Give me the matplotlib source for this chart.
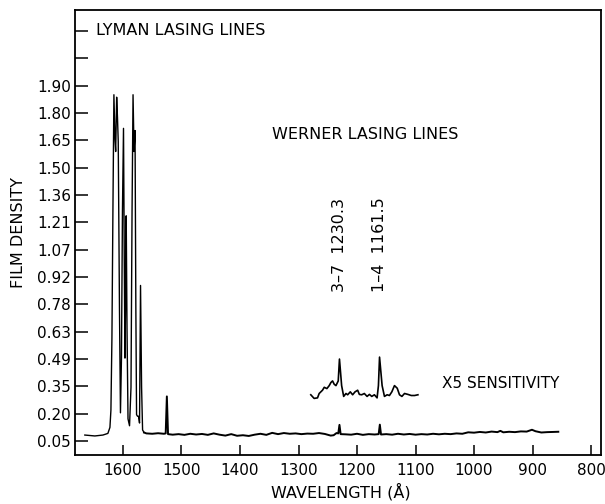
import numpy as np
import matplotlib
matplotlib.use("Agg")
import matplotlib.pyplot as plt
from matplotlib.transforms import blended_transform_factory

plt.rcParams.update({'font.family': 'DejaVu Sans', 'font.size': 10.5})

# ---- Film density tick labels (evenly spaced on the plate) ----
density_ticks = [0.05, 0.20, 0.35, 0.49, 0.63, 0.78, 0.92, 1.07, 1.21,
                 1.36, 1.50, 1.65, 1.80, 1.90]
wavelength_ticks = [1600, 1500, 1400, 1300, 1200, 1100, 1000, 900, 800]

# ---- Main scan: Lyman band region ----
lyman_wl = [1665.2, 1648.1, 1634.3, 1625.8, 1622.3, 1620.6, 1618.9, 1617.2,
            1615.5, 1613.7, 1612.5, 1610.8, 1609.4, 1608.1, 1606.0, 1604.3,
            1602.6, 1600.9, 1599.1, 1597.8, 1596.6, 1595.7, 1594.5, 1593.1,
            1591.4, 1588.8, 1586.3, 1584.5, 1582.8, 1581.1, 1579.4, 1578.0,
            1576.8, 1575.1, 1573.4, 1571.7, 1570.0, 1568.2, 1566.5, 1564.0]
lyman_d = [0.083, 0.078, 0.083, 0.092, 0.125, 0.220, 0.595, 1.270,
           1.867, 1.656, 1.589, 1.858, 1.776, 1.644, 0.758, 0.205,
           0.495, 1.270, 1.716, 1.020, 0.495, 0.758, 1.246, 0.647,
           0.172, 0.134, 0.345, 1.270, 1.867, 1.589, 1.704, 0.758,
           0.195, 0.186, 0.186, 0.149, 0.877, 0.345, 0.111, 0.097]

# ---- Main scan: continuum down to 856 A ----
cont_wl = [1560, 1550, 1540, 1530, 1527, 1525, 1523, 1515, 1505, 1495, 1485,
           1475, 1465, 1455, 1445, 1435, 1425, 1415, 1405, 1395, 1385, 1375,
           1365, 1355, 1345, 1335, 1325, 1315, 1305, 1295, 1285, 1275, 1265,
           1255, 1245, 1240, 1235, 1232, 1230, 1228, 1220, 1210, 1200, 1190,
           1180, 1170, 1163, 1161, 1159, 1150, 1140, 1130, 1120, 1110, 1100,
           1090, 1080, 1070, 1060, 1050, 1040, 1030, 1020, 1010, 1000, 990,
           980, 970, 960, 955, 950, 940, 930, 920, 910, 901, 895, 885, 875,
           865, 856]
cont_d = [0.092, 0.090, 0.093, 0.090, 0.092, 0.295, 0.088, 0.085, 0.088, 0.084,
          0.090, 0.086, 0.089, 0.084, 0.092, 0.085, 0.080, 0.088, 0.079, 0.082,
          0.078, 0.085, 0.090, 0.084, 0.095, 0.088, 0.094, 0.090, 0.092, 0.088,
          0.091, 0.090, 0.094, 0.089, 0.080, 0.082, 0.094, 0.092, 0.139, 0.088,
          0.087, 0.085, 0.090, 0.084, 0.088, 0.086, 0.088, 0.140, 0.086, 0.088,
          0.085, 0.090, 0.086, 0.089, 0.085, 0.088, 0.086, 0.090, 0.087, 0.090,
          0.088, 0.092, 0.090, 0.098, 0.096, 0.100, 0.097, 0.102, 0.099, 0.106,
          0.098, 0.101, 0.099, 0.103, 0.102, 0.112, 0.104, 0.097, 0.099, 0.100,
          0.101]

# ---- X5 sensitivity scan of the Werner region ----
x5_wl = [1279.0, 1273.3, 1267.5, 1264.7, 1259.0, 1256.0, 1251.5, 1247.5,
         1244.6, 1241.8, 1239.0, 1236.0, 1232.1, 1230.0, 1226.3, 1222.8,
         1218.9, 1216.0, 1211.5, 1207.5, 1203.4, 1198.9, 1196.0, 1192.0,
         1187.5, 1182.8, 1178.8, 1174.8, 1170.3, 1165.7, 1163.4, 1161.5,
         1157.1, 1153.1, 1148.5, 1144.6, 1140.5, 1136.0, 1131.3, 1127.4,
         1123.3, 1118.8, 1113.0, 1107.3, 1101.6, 1095.9]
x5_d = [0.304, 0.284, 0.287, 0.311, 0.329, 0.345, 0.338, 0.354,
        0.370, 0.378, 0.361, 0.354, 0.378, 0.490, 0.354, 0.295,
        0.311, 0.304, 0.320, 0.304, 0.320, 0.329, 0.306, 0.304,
        0.311, 0.295, 0.306, 0.295, 0.304, 0.287, 0.354, 0.500,
        0.354, 0.295, 0.304, 0.300, 0.320, 0.354, 0.340, 0.304,
        0.295, 0.311, 0.306, 0.300, 0.300, 0.304]

werner_lines = [1230.3, 1161.5]
werner_labels = ['3\u20137  1230.3', '1\u20134  1161.5']

tick_index = np.arange(len(density_ticks))


def to_plate(d):
    """Film density -> evenly spaced plate position used for the y axis."""
    return np.interp(d, density_ticks, tick_index)


fig = plt.figure(figsize=(6.05, 5.04), dpi=100)
ax = fig.add_axes([75 / 605, 49 / 504, 526 / 605, 445 / 504])

# thin pen for the saturated Lyman lines, heavier trace for the continuum
ax.plot(lyman_wl, to_plate(lyman_d), color='black', lw=1.0)
ax.plot(lyman_wl[-1:] + cont_wl, to_plate(lyman_d[-1:] + cont_d),
        color='black', lw=1.4)
ax.plot(x5_wl, to_plate(x5_d), color='black', lw=1.2)

ax.set_xlim(1682, 783)
ax.set_ylim(-0.51, 15.77)

ax.set_xticks(wavelength_ticks)
ax.set_xticklabels([str(w) for w in wavelength_ticks])
ax.set_yticks(list(tick_index) + [14, 15])
ax.set_yticklabels([f'{d:.2f}' for d in density_ticks] + ['', ''])
ax.tick_params(axis='both', direction='in', width=1.1, labelsize=11)
ax.tick_params(axis='y', length=9, pad=3)
ax.tick_params(axis='x', length=7, pad=6)
for sp in ax.spines.values():
    sp.set_linewidth(1.3)

ax.set_xlabel('WAVELENGTH (\u00c5)', fontsize=11.5, va='center')
ax.xaxis.set_label_coords(0.505, -0.083)
ax.set_ylabel('FILM DENSITY', fontsize=11.5, labelpad=8)

ax.text(0.040, 0.955, 'LYMAN LASING LINES', transform=ax.transAxes,
        ha='left', va='center', fontsize=11.5)
ax.text(0.3745, 0.721, 'WERNER LASING LINES', transform=ax.transAxes,
        ha='left', va='center', fontsize=11.5)
ax.text(0.698, 0.160, 'X5 SENSITIVITY', transform=ax.transAxes,
        ha='left', va='center', fontsize=11)

trans = blended_transform_factory(ax.transData, ax.transAxes)
for wl, lbl in zip(werner_lines, werner_labels):
    ax.text(wl, 0.472, lbl, transform=trans, rotation=90,
            ha='center', va='center', fontsize=11.5)

fig.savefig('out.png', dpi=100)
